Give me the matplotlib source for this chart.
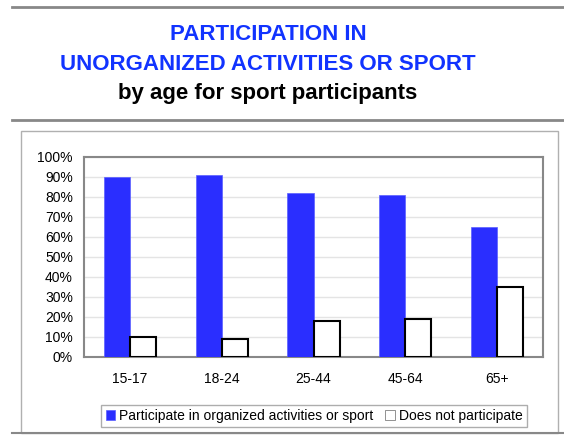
import numpy as np
import matplotlib
import matplotlib.pyplot as plt
from matplotlib.patches import Rectangle
from matplotlib.lines import Line2D
matplotlib.use('Agg')

plt.rcParams['font.family'] = ['Liberation Sans', 'DejaVu Sans']

age_groups = ["15-17", "18-24", "25-44", "45-64", "65+"]
organized = [90, 91, 82, 81, 65]
not_participating = [10, 9, 18, 19, 35]
y_ticks = [0, 10, 20, 30, 40, 50, 60, 70, 80, 90, 100]

W, H = 564, 437
fig = plt.figure(figsize=(W / 100, H / 100), dpi=100)


def fx(px):
    return px / W


def fy(py):
    return 1 - py / H


# Title block
fig.text(fx(268), fy(34), "PARTICIPATION IN", color="#1133ff", fontsize=16,
         fontweight="bold", ha="center", va="center")
fig.text(fx(268), fy(64), "UNORGANIZED ACTIVITIES OR SPORT", color="#1133ff",
         fontsize=16, fontweight="bold", ha="center", va="center")
fig.text(fx(268), fy(93), "by age for sport participants", color="black",
         fontsize=16, fontweight="bold", ha="center", va="center")

# Horizontal rules and chart frame
for ypx in (7, 120):
    fig.add_artist(Line2D([fx(12), 1], [fy(ypx), fy(ypx)], color="#888888", lw=2))
fig.add_artist(Line2D([fx(12), 1], [fy(433), fy(433)], color="#888888", lw=1.5))
fig.add_artist(Rectangle((fx(21), fy(433)), fx(558) - fx(21), fy(131) - fy(433),
                         fill=False, edgecolor="#b0b0b0", lw=1))

ax = fig.add_axes([fx(84), fy(357), fx(543) - fx(84), fy(157) - fy(357)])
x = np.arange(len(age_groups))
w = 0.285
ax.bar(x - w / 2, organized, width=w, color="#2a2eff", edgecolor="#5a5eff",
       lw=0.5, label="Participate in organized activities or sport", zorder=3)
ax.bar(x + w / 2, not_participating, width=w, color="white", edgecolor="black",
       lw=1.5, label="Does not participate", zorder=3)

ax.set_xlim(-0.5, len(age_groups) - 0.5)
ax.set_ylim(0, 100)
ax.set_yticks(y_ticks)
ax.set_yticklabels([f"{v}%" for v in y_ticks])
ax.set_xticks(x)
ax.set_xticklabels(age_groups)
ax.tick_params(axis="both", length=0, labelsize=10)
ax.tick_params(axis="x", pad=11)
ax.tick_params(axis="y", pad=8)
ax.grid(axis="y", color="#e4e4e4", lw=1, zorder=0)
for s in ax.spines.values():
    s.set_color("#888888")
    s.set_linewidth(1.5)

leg = fig.legend(loc="center", bbox_to_anchor=(fx(314), fy(416)), ncol=2,
                 fontsize=10, frameon=True, fancybox=False, handlelength=0.7,
                 handleheight=0.7, handletextpad=0.3, columnspacing=0.8,
                 borderpad=0.3)
leg.get_frame().set_edgecolor("#999999")
leg.get_frame().set_linewidth(1)
for h in leg.legend_handles:
    h.set_linewidth(0.5)
    if h.get_facecolor()[0] == 1:
        h.set_edgecolor("#666666")

fig.savefig("out.png", dpi=100)
